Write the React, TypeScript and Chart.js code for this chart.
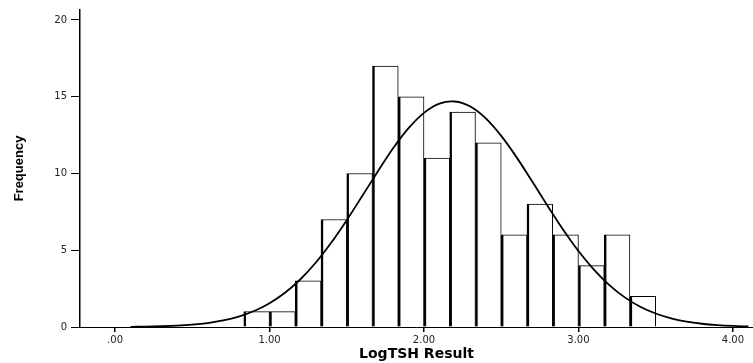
import React, { useEffect, useRef } from "react";
import { Chart, registerables } from "chart.js";

Chart.register(...registerables);

// Histogram bins (centers, bin width 1/6) and frequencies
const binCenters = [0.9167, 1.0833, 1.25, 1.4167, 1.5833, 1.75, 1.9167, 2.0833, 2.25, 2.4167, 2.5833, 2.75, 2.9167, 3.0833, 3.25, 3.4167];
const frequencies = [1, 1, 3, 7, 10, 17, 15, 11, 14, 12, 6, 8, 6, 4, 6, 2];

// Normal curve
const curveX = [0.1, 0.2, 0.3, 0.4, 0.5, 0.6, 0.7, 0.8, 0.9, 1.0, 1.1, 1.2, 1.3, 1.4, 1.5, 1.6, 1.7, 1.8, 1.9, 2.0, 2.1, 2.2, 2.3, 2.4, 2.5, 2.6, 2.7, 2.8, 2.9, 3.0, 3.1, 3.2, 3.3, 3.4, 3.5, 3.6, 3.7, 3.8, 3.9, 4.0, 4.1];
const curveY = [0.013, 0.026, 0.049, 0.088, 0.153, 0.259, 0.425, 0.676, 1.04, 1.55, 2.23, 3.11, 4.2, 5.5, 6.96, 8.53, 10.12, 11.64, 12.95, 13.95, 14.55, 14.69, 14.36, 13.59, 12.45, 11.05, 9.49, 7.89, 6.35, 4.95, 3.74, 2.73, 1.93, 1.32, 0.878, 0.563, 0.35, 0.211, 0.123, 0.069, 0.038];

const xTicks = [0, 1, 2, 3, 4];
const yTicks = [0, 5, 10, 15, 20];

const xLabel = (v: number) => (v === 0 ? ".00" : v.toFixed(2));

export default function App() {
  const ref = useRef<HTMLCanvasElement>(null);
  useEffect(() => {
    if (!ref.current) return;
    const chart = new Chart(ref.current, {
      type: "bar",
      data: {
        datasets: [
          {
            type: "line",
            data: curveX.map((x, i) => ({ x, y: curveY[i] })),
            borderColor: "#000",
            borderWidth: 1.8,
            pointRadius: 0,
            fill: false,
            tension: 0.3,
            order: 0,
          } as any,
          {
            type: "bar",
            data: binCenters.map((x, i) => ({ x, y: frequencies[i] })),
            backgroundColor: "#fff",
            borderColor: "#000",
            borderWidth: { left: 2.5, right: 1, top: 1, bottom: 0 },
            borderSkipped: false,
            barPercentage: 1,
            categoryPercentage: 1,
            grouped: false,
            order: 1,
          } as any,
        ],
      },
      options: {
        animation: false,
        responsive: false,
        maintainAspectRatio: false,
        layout: { padding: { top: 10, right: 0, left: 0, bottom: 0 } },
        plugins: { legend: { display: false }, tooltip: { enabled: false } },
        scales: {
          x: {
            type: "linear",
            min: -0.227,
            max: 4.13,
            offset: false,
            afterBuildTicks: (s: any) => {
              s.ticks = xTicks.map((v) => ({ value: v }));
            },
            afterFit: (s: any) => {
              s.height = 36;
            },
            grid: { display: true, drawOnChartArea: false, drawTicks: true, tickLength: 5, color: "#000", lineWidth: 1.5, offset: false },
            border: { display: true, color: "#000", width: 1 },
            ticks: {
              callback: (v: any) => xLabel(Number(v)),
              color: "#222",
              font: { family: "DejaVu Sans", size: 10 },
              padding: 2,
              maxRotation: 0,
            },
            title: {
              display: true,
              text: "LogTSH Result",
              color: "#000",
              font: { family: "DejaVu Sans", size: 14, weight: "bold" },
              padding: { top: 0, bottom: 0 },
            },
          },
          y: {
            type: "linear",
            min: 0,
            max: 20.65,
            afterBuildTicks: (s: any) => {
              s.ticks = yTicks.map((v) => ({ value: v }));
            },
            afterFit: (s: any) => {
              s.width = 80;
            },
            grid: { display: true, drawOnChartArea: false, drawTicks: true, tickLength: 9, color: "#000", lineWidth: 1 },
            border: { display: true, color: "#000", width: 1.5 },
            ticks: {
              color: "#222",
              font: { family: "DejaVu Sans", size: 10 },
              padding: 4,
            },
            title: {
              display: true,
              text: "Frequency",
              color: "#000",
              font: { family: "Liberation Sans Narrow, Liberation Sans", size: 13, weight: "bold" },
              padding: { top: 12, bottom: 0 },
            },
          },
        },
      },
    });
    return () => chart.destroy();
  }, []);
  return (
    <div style={{ position: "fixed", left: 0, top: 0, width: 753, height: 363, background: "#fff" }}>
      <canvas ref={ref} width={753} height={363} style={{ width: 753, height: 363 }} />
    </div>
  );
}
